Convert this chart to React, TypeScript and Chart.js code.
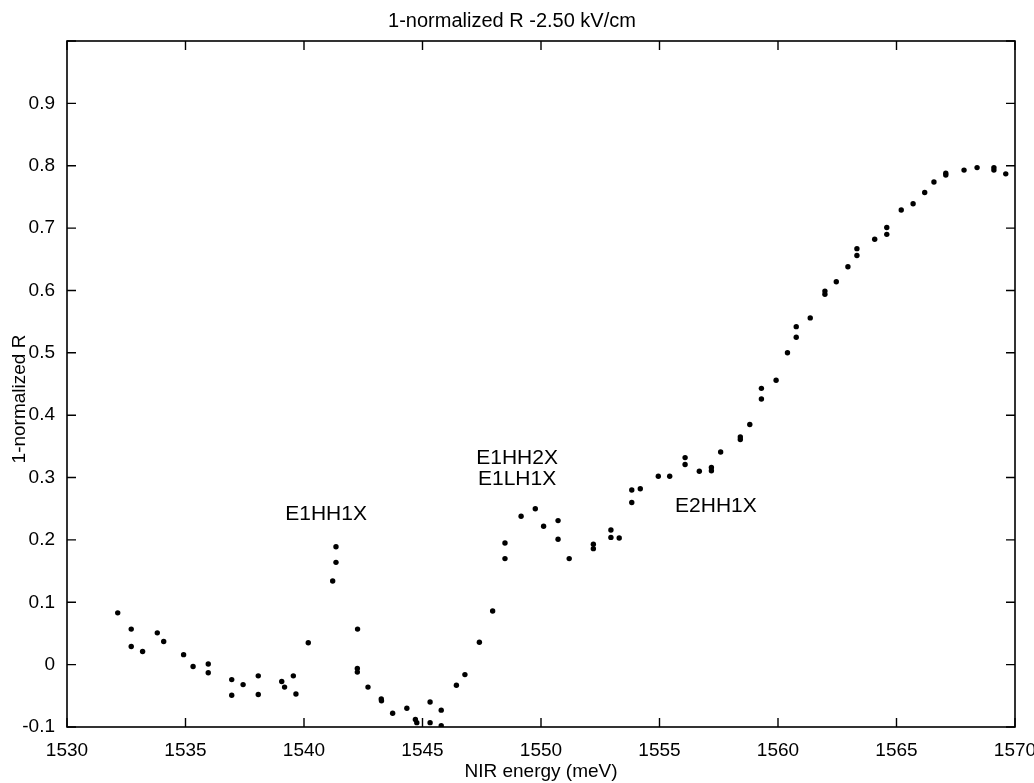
import React, { useEffect, useRef } from "react";
import { Chart, registerables } from "chart.js";

Chart.register(...registerables);

// Measured reflectance spectrum: photon energy (meV) and 1 - normalized R
const energyMeV = [
  1532.14, 1532.71, 1532.71, 1533.19, 1533.81, 1534.08, 1534.92, 1535.32, 1535.96, 1535.96,
  1536.95, 1536.95, 1537.43, 1538.07, 1538.07, 1539.06, 1539.18, 1539.55, 1539.66, 1540.18,
  1541.21, 1541.35, 1541.35, 1542.26, 1542.25, 1542.25, 1542.7, 1543.26, 1543.27, 1543.74,
  1544.34, 1544.7, 1544.76, 1545.32, 1545.32, 1545.79, 1545.79, 1546.43, 1546.79, 1547.4,
  1547.96, 1548.48, 1548.48, 1549.16, 1549.76, 1550.11, 1550.72, 1550.72, 1551.19, 1552.21,
  1552.21, 1552.95, 1552.95, 1553.3, 1553.83, 1553.83, 1554.19, 1554.95, 1555.43, 1556.08,
  1556.08, 1556.68, 1557.19, 1557.19, 1557.58, 1558.41, 1558.41, 1558.81, 1559.3, 1559.3,
  1559.92, 1560.4, 1560.77, 1560.77, 1561.36, 1561.98, 1561.98, 1562.46, 1562.95, 1563.33,
  1563.33, 1564.08, 1564.59, 1564.59, 1565.2, 1565.7, 1566.19, 1566.58, 1567.08, 1567.08,
  1567.85, 1568.4, 1569.11, 1569.11, 1569.61,
];

const oneMinusR = [
  0.083, 0.057, 0.029, 0.021, 0.051, 0.037, 0.016, -0.003, 0.001, -0.013,
  -0.024, -0.049, -0.032, -0.018, -0.048, -0.027, -0.036, -0.018, -0.047, 0.035,
  0.134, 0.164, 0.189, 0.057, -0.006, -0.012, -0.036, -0.055, -0.058, -0.078,
  -0.07, -0.088, -0.093, -0.06, -0.093, -0.073, -0.098, -0.033, -0.016, 0.036,
  0.086, 0.195, 0.17, 0.238, 0.25, 0.222, 0.231, 0.201, 0.17, 0.193,
  0.186, 0.216, 0.204, 0.203, 0.28, 0.26, 0.282, 0.302, 0.302, 0.332,
  0.321, 0.31, 0.316, 0.311, 0.341, 0.365, 0.361, 0.385, 0.443, 0.426,
  0.456, 0.5, 0.542, 0.525, 0.556, 0.599, 0.594, 0.614, 0.638, 0.667,
  0.656, 0.682, 0.701, 0.69, 0.729, 0.739, 0.757, 0.774, 0.788, 0.785,
  0.793, 0.797, 0.797, 0.793, 0.787,
];

// Exciton transition labels
const peakLabels = ["E1HH1X", "E1HH2X", "E1LH1X", "E2HH1X"];
const peakLabelEnergy = [1540.93, 1548.99, 1548.99, 1557.38];
const peakLabelValue = [0.242, 0.331, 0.297, 0.254];

const xMin = 1530;
const xMax = 1570;
const xStep = 5;
const yMin = -0.1;
const yMax = 1.0;
const yStep = 0.1;

const FONT = "'Liberation Sans', Arial, Helvetica, sans-serif";

const framePlugin = {
  id: "matlabFrame",
  afterDraw(chart: any) {
    const { ctx, chartArea, scales } = chart;
    const { left, right, top, bottom } = chartArea;
    const xs = scales.x;
    const ys = scales.y;
    ctx.save();
    ctx.strokeStyle = "#000";
    ctx.lineWidth = 1.6;
    ctx.strokeRect(left, top, right - left, bottom - top);

    // inward tick marks on all four sides
    const tl = 9;
    ctx.lineWidth = 1.4;
    ctx.beginPath();
    xs.ticks.forEach((t: any) => {
      const px = xs.getPixelForValue(t.value);
      ctx.moveTo(px, bottom);
      ctx.lineTo(px, bottom - tl);
      ctx.moveTo(px, top);
      ctx.lineTo(px, top + tl);
    });
    ys.ticks.forEach((t: any) => {
      const py = ys.getPixelForValue(t.value);
      ctx.moveTo(left, py);
      ctx.lineTo(left + tl, py);
      ctx.moveTo(right, py);
      ctx.lineTo(right - tl, py);
    });
    ctx.stroke();

    ctx.fillStyle = "#000";
    ctx.textAlign = "center";
    ctx.textBaseline = "middle";

    // chart title
    ctx.font = `20px ${FONT}`;
    ctx.fillText("1-normalized R -2.50 kV/cm", 512, 21);

    // axis titles
    ctx.font = `19px ${FONT}`;
    ctx.fillText("NIR energy (meV)", (left + right) / 2, 772);
    ctx.save();
    ctx.translate(20, 399);
    ctx.rotate(-Math.PI / 2);
    ctx.fillText("1-normalized R", 0, 0);
    ctx.restore();

    // transition labels
    ctx.font = `21px ${FONT}`;
    peakLabels.forEach((label, i) => {
      ctx.fillText(
        label,
        xs.getPixelForValue(peakLabelEnergy[i]),
        ys.getPixelForValue(peakLabelValue[i])
      );
    });
    ctx.restore();
  },
};

export default function App() {
  const canvasRef = useRef<HTMLCanvasElement | null>(null);

  useEffect(() => {
    const canvas = canvasRef.current;
    if (!canvas) return;
    const points = energyMeV.map((e, i) => ({ x: e, y: oneMinusR[i] }));
    const chart = new Chart(canvas, {
      type: "scatter",
      data: {
        datasets: [
          {
            data: points,
            pointRadius: 2.7,
            pointHoverRadius: 2.7,
            pointBackgroundColor: "#000",
            pointBorderWidth: 0,
            showLine: false,
          },
        ],
      },
      options: {
        animation: false,
        responsive: false,
        devicePixelRatio: 1,
        layout: { padding: { top: 41, right: 19, left: 0, bottom: 0 } },
        plugins: {
          legend: { display: false },
          tooltip: { enabled: false },
          title: { display: false },
        },
        scales: {
          x: {
            type: "linear",
            min: xMin,
            max: xMax,
            grid: { display: false },
            border: { display: false },
            ticks: {
              stepSize: xStep,
              color: "#000",
              font: { family: FONT, size: 19 },
              padding: 4,
              maxRotation: 0,
              callback: (v: any) => String(Math.round(Number(v))),
            },
            afterFit: (s: any) => {
              s.height = 56;
              s.paddingLeft = 0;
              s.paddingRight = 0;
            },
          },
          y: {
            type: "linear",
            min: yMin,
            max: yMax,
            grid: { display: false },
            border: { display: false },
            ticks: {
              stepSize: yStep,
              color: "#000",
              font: { family: FONT, size: 19 },
              padding: 4,
              callback: (v: any) => {
                const r = Math.round(Number(v) * 10) / 10;
                if (r >= 1) return "";
                return String(r);
              },
            },
            afterFit: (s: any) => {
              s.width = 67;
              s.paddingTop = 0;
              s.paddingBottom = 0;
            },
          },
        },
      },
      plugins: [framePlugin],
    });
    return () => chart.destroy();
  }, []);

  return (
    <div style={{ position: "fixed", left: 0, top: 0, width: 1034, height: 783, background: "#fff" }}>
      <canvas ref={canvasRef} width={1034} height={783} />
    </div>
  );
}
